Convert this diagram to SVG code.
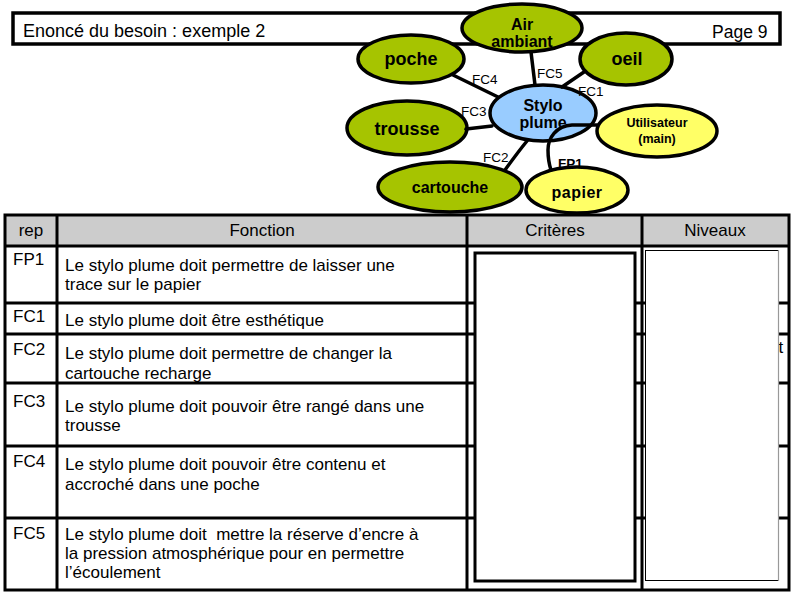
<svg xmlns="http://www.w3.org/2000/svg" width="794" height="595" viewBox="0 0 794 595">
<style>
  text { font-family: "Liberation Sans", Arial, sans-serif; fill: #000; }
  .node { stroke: #000; stroke-width: 3.5; }
  .green { fill: #a6c400; }
  .yellow { fill: #ffff66; }
  .blue { fill: #99ccff; }
  .nl { font-weight: bold; font-size: 16px; text-anchor: middle; }
  .big { font-size: 18px; }
  .small { font-size: 12.5px; }
  .conn { fill: none; stroke: #000; stroke-width: 3.5; stroke-linecap: round; }
  .cl { font-size: 13.5px; }
  .grid { fill: none; stroke: #000; stroke-width: 3; }
  .th { font-size: 17px; text-anchor: middle; }
  .td { font-size: 17px; white-space: pre; }
</style>
<rect width="794" height="595" fill="#fff"/>

<g id="title">
  <rect x="13" y="13" width="767" height="31" fill="#fff" stroke="#000" stroke-width="3.5"/>
  <text x="23" y="37" font-size="18">Enoncé du besoin : exemple 2</text>
  <text x="712" y="38" font-size="17.5">Page 9</text>
</g>

<g id="node-air">
  <ellipse class="node green" cx="522" cy="28" rx="60" ry="24"/>
  <text class="nl" x="522" y="30">Air</text>
  <text class="nl" x="522" y="47">ambiant</text>
</g>
<g id="node-poche">
  <ellipse class="node green" cx="411" cy="59" rx="53" ry="24"/>
  <text class="nl big" x="411" y="65">poche</text>
</g>
<g id="node-oeil">
  <ellipse class="node green" cx="626" cy="59" rx="46" ry="26"/>
  <text class="nl big" x="627" y="65">oeil</text>
</g>
<g id="node-trousse">
  <ellipse class="node green" cx="407" cy="128" rx="60" ry="27"/>
  <text class="nl big" x="407" y="135">trousse</text>
</g>
<g id="node-cartouche">
  <ellipse class="node green" cx="450" cy="187" rx="72" ry="25"/>
  <text class="nl" x="450" y="193">cartouche</text>
</g>
<g id="node-stylo">
  <ellipse class="node blue" cx="543" cy="113" rx="53" ry="28"/>
  <text class="nl" x="543" y="111">Stylo</text>
  <text class="nl" x="543" y="128">plume</text>
</g>
<g id="node-utilisateur">
  <ellipse class="node yellow" cx="657" cy="131" rx="60" ry="26"/>
  <text class="nl small" x="657" y="127">Utilisateur</text>
  <text class="nl small" x="657" y="143">(main)</text>
</g>
<g id="node-papier">
  <ellipse class="node yellow" cx="577" cy="190" rx="51" ry="23"/>
  <text class="nl" x="577" y="198" letter-spacing="0.5">papier</text>
</g>

<g id="connectors">
  <line class="conn" x1="453" y1="75" x2="498" y2="97"/>
  <line class="conn" x1="531" y1="52" x2="535" y2="85"/>
  <line class="conn" x1="584" y1="72" x2="562" y2="87"/>
  <line class="conn" x1="466" y1="129" x2="492" y2="126"/>
  <path class="conn" d="M505,170 Q518,152 527,141"/>
  <path class="conn" d="M597,125 L572,125 C556,126 548,138 548,150 C548,158 549,164 551,170"/>
  <text class="cl" x="472" y="84">FC4</text>
  <text class="cl" x="537" y="78">FC5</text>
  <text class="cl" x="578" y="96">FC1</text>
  <text class="cl" x="461" y="116">FC3</text>
  <text class="cl" x="483" y="162">FC2</text>
  <text class="cl" x="558" y="168" font-weight="bold">FP1</text>
</g>

<g id="table">
  <rect x="5" y="215" width="784" height="31" fill="#cccccc"/>
  <rect class="grid" x="5" y="215" width="784" height="375"/>
  <line class="grid" x1="5" y1="246" x2="789" y2="246"/>
  <line class="grid" x1="5" y1="303" x2="789" y2="303"/>
  <line class="grid" x1="5" y1="334" x2="789" y2="334"/>
  <line class="grid" x1="5" y1="383" x2="789" y2="383"/>
  <line class="grid" x1="5" y1="446" x2="789" y2="446"/>
  <line class="grid" x1="5" y1="518" x2="789" y2="518"/>
  <line class="grid" x1="57" y1="215" x2="57" y2="590"/>
  <line class="grid" x1="467" y1="215" x2="467" y2="590"/>
  <line class="grid" x1="642" y1="215" x2="642" y2="590"/>

  <text class="th" x="31" y="236">rep</text>
  <text class="th" x="262" y="236">Fonction</text>
  <text class="th" x="555" y="236">Critères</text>
  <text class="th" x="715" y="236">Niveaux</text>

  <text class="td" x="778.5" y="353">t</text>
  <rect x="475" y="253" width="160" height="328" fill="#fff" stroke="#000" stroke-width="3"/>
  <rect x="645.5" y="250.5" width="133" height="330" fill="#fff" stroke="#000" stroke-width="1"/>
  <line x1="778.5" y1="250" x2="778.5" y2="581" stroke="#999" stroke-width="1.2"/>

  <text class="td" x="13" y="265">FP1</text>
  <text class="td" x="65" y="271">Le stylo plume doit permettre de laisser une</text>
  <text class="td" x="65" y="290">trace sur le papier</text>

  <text class="td" x="13" y="322">FC1</text>
  <text class="td" x="65" y="326">Le stylo plume doit être esthétique</text>

  <text class="td" x="13" y="355">FC2</text>
  <text class="td" x="65" y="359">Le stylo plume doit permettre de changer la</text>
  <text class="td" x="65" y="379">cartouche recharge</text>

  <text class="td" x="13" y="407">FC3</text>
  <text class="td" x="65" y="412">Le stylo plume doit pouvoir être rangé dans une</text>
  <text class="td" x="65" y="431">trousse</text>

  <text class="td" x="13" y="467">FC4</text>
  <text class="td" x="65" y="470">Le stylo plume doit pouvoir être contenu et</text>
  <text class="td" x="65" y="490">accroché dans une poche</text>

  <text class="td" x="13" y="539">FC5</text>
  <text class="td" x="65" y="540">Le stylo plume doit  mettre la réserve d’encre à</text>
  <text class="td" x="65" y="559">la pression atmosphérique pour en permettre</text>
  <text class="td" x="65" y="578">l’écoulement</text>
</g>
</svg>
